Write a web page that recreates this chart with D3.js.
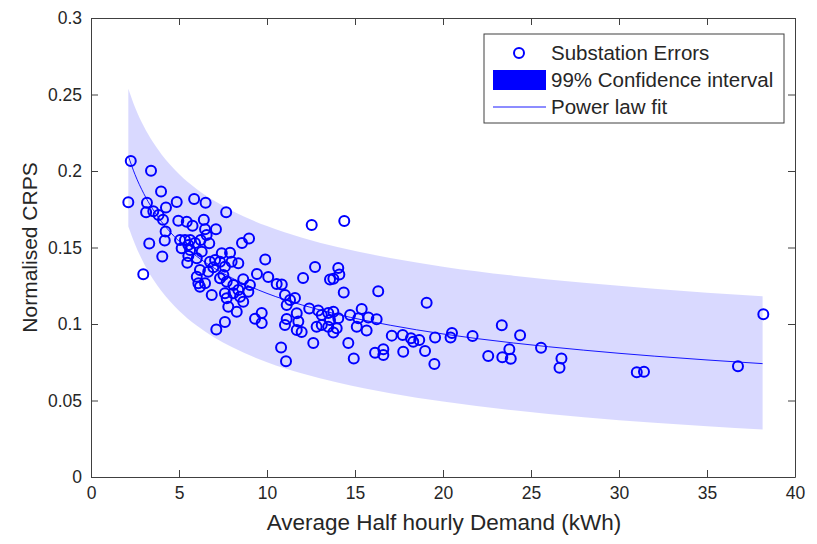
<!DOCTYPE html>
<html>
<head>
<meta charset="utf-8">
<script src="https://cdn.jsdelivr.net/npm/d3@7"></script>
<style>
  html, body { margin: 0; padding: 0; background: #fff; }
  svg { display: block; font-family: "Liberation Sans", Arial, Helvetica, sans-serif; }
</style>
</head>
<body>
<svg id="chart" width="817" height="544"></svg>
<script>
// ---- data ----
const demand = [2.26,3.41,3.98,2.12,3.18,3.13,3.54,3.84,4.09,4.26,4.87,5.86,6.51,7.68,4.24,4.19,3.31,4.05,2.97,4.96,5.44,5.77,6.41,6.48,7.10,5.06,5.34,5.63,5.15,5.53,5.91,6.23,6.57,6.72,6.29,6.01,5.47,5.53,8.58,8.98,7.43,7.90,6.76,7.05,7.33,7.61,8.37,6.19,6.66,6.95,7.71,7.33,6.10,6.48,6.19,6.86,7.61,7.71,8.09,8.37,8.65,9.03,8.94,8.47,9.43,10.07,9.90,10.55,7.80,8.28,8.65,9.70,9.32,9.70,7.61,7.12,10.80,11.08,
  12.54,14.39,12.73,14.05,14.11,13.77,13.58,12.05,14.36,16.32,10.84,11.02,11.31,11.59,11.12,11.69,11.12,11.02,11.78,11.69,11.97,12.40,12.91,13.11,13.48,13.77,14.05,13.58,13.11,12.82,13.48,13.96,13.77,14.72,15.38,15.19,15.76,16.23,15.10,15.66,12.63,14.62,14.93,16.14,16.61,16.61,17.09,17.71,18.18,18.31,18.65,17.74,18.98,19.51,19.55,20.43,20.51,21.68,19.07,23.34,24.38,22.57,23.37,23.77,23.85,25.57,26.73,26.62,31.01,31.42,36.76,38.20,
  6.01,8.09,7.99,7.52,5.63];
const crps = [0.2065,0.2002,0.1866,0.1795,0.1793,0.1730,0.1737,0.1712,0.1681,0.1761,0.1797,0.1817,0.1792,0.1731,0.1605,0.1546,0.1526,0.1441,0.1325,0.1675,0.1669,0.1642,0.1682,0.1619,0.1619,0.1549,0.1549,0.1549,0.1495,0.1516,0.1529,0.1549,0.1582,0.1527,0.1473,0.1429,0.1401,0.1444,0.1529,0.1559,0.1462,0.1466,0.1407,0.1418,0.1407,0.1375,0.1397,0.1353,0.1342,0.1371,0.1276,0.1299,0.1266,0.1266,0.1244,0.1190,0.1201,0.1168,0.1201,0.1222,0.1292,0.1255,0.1211,0.1178,0.1327,0.1307,0.1422,0.1261,0.1113,0.1080,0.1146,0.1072,0.1034,0.1007,0.1013,0.0964,0.0846,0.0756,
  0.1647,0.1673,0.1373,0.1366,0.1324,0.1295,0.1291,0.1301,0.1206,0.1214,0.1258,0.1190,0.1157,0.1170,0.1124,0.1070,0.1033,0.0993,0.1016,0.0961,0.0948,0.1101,0.1088,0.1059,0.1072,0.1080,0.1037,0.1026,0.0993,0.0982,0.0982,0.0972,0.0944,0.1059,0.1098,0.1037,0.1042,0.1031,0.0982,0.0958,0.0876,0.0876,0.0775,0.0812,0.0835,0.0797,0.0924,0.0928,0.0907,0.0884,0.0895,0.0819,0.0824,0.0739,0.0912,0.0912,0.0941,0.0922,0.1139,0.0992,0.0926,0.0791,0.0782,0.0835,0.0773,0.0845,0.0775,0.0714,0.0684,0.0688,0.0724,0.1063,
  0.1309,0.1255,0.1407,0.1320,0.1484];

// power-law fit line and 99% band, read at these demand values
const fitDemand = [2.12,2.5,3,3.5,4,5,6,7,8,10,12,14,17,20,24,28,32,35,38.16];
const fitCrps   = [0.2098,0.1977,0.1852,0.1752,0.1670,0.1541,0.1443,0.1365,0.1301,0.1200,0.1124,0.1063,0.0992,0.0935,0.0876,0.0829,0.0790,0.0765,0.0741];
const bandUpper = [0.2538,0.2417,0.2292,0.2192,0.2110,0.1981,0.1883,0.1805,0.1741,0.1640,0.1564,0.1503,0.1432,0.1375,0.1316,0.1269,0.1230,0.1205,0.1181];
const bandLower = [0.1638,0.1522,0.1397,0.1297,0.1215,0.1087,0.0990,0.0912,0.0849,0.0750,0.0676,0.0617,0.0548,0.0493,0.0436,0.0391,0.0354,0.0331,0.0310];

const xTicks = [0,5,10,15,20,25,30,35,40];
const yTicks = [0,0.05,0.1,0.15,0.2,0.25,0.3];
const legendLabels = ["Substation Errors","99% Confidence interval","Power law fit"];

// ---- drawing ----
const svg = d3.select("#chart");
const L = 91, R = 795, T = 18, B = 477;
const x = d3.scaleLinear().domain([0,40]).range([L,R]);
const y = d3.scaleLinear().domain([0,0.3]).range([B,T]);
const axisCol = "#404040", textCol = "#262626";
const blue = "#0000ff";

const bandData = fitDemand.map((d,i)=>({x:d, lo:bandLower[i], hi:bandUpper[i]}));
svg.append("path")
  .datum(bandData)
  .attr("d", d3.area().x(d=>x(d.x)).y0(d=>y(d.lo)).y1(d=>y(d.hi)).curve(d3.curveMonotoneX))
  .attr("fill", blue).attr("fill-opacity", 0.15).attr("stroke","none");

svg.append("path")
  .datum(fitDemand.map((d,i)=>[d, fitCrps[i]]))
  .attr("d", d3.line().x(d=>x(d[0])).y(d=>y(d[1])).curve(d3.curveMonotoneX))
  .attr("fill","none").attr("stroke", blue).attr("stroke-width", 0.9);

svg.append("g").selectAll("circle")
  .data(demand.map((d,i)=>[d, crps[i]]))
  .join("circle")
  .attr("cx", d=>x(d[0])).attr("cy", d=>y(d[1])).attr("r", 5)
  .attr("fill","none").attr("stroke", blue).attr("stroke-width", 2);

// axes
const fs = 17.5;
function styleAxis(g){
  g.select(".domain").attr("stroke", axisCol).attr("stroke-width", 1);
  g.selectAll(".tick line").attr("stroke", axisCol);
  g.selectAll("text").attr("fill", textCol).style("font-size", fs+"px");
}
svg.append("g").attr("transform",`translate(0,${B})`)
  .call(d3.axisBottom(x).tickValues(xTicks).tickFormat(d3.format("d")).tickSize(-7).tickSizeOuter(0).tickPadding(10))
  .call(styleAxis);
svg.append("g").attr("transform",`translate(${L},0)`)
  .call(d3.axisLeft(y).tickValues(yTicks).tickFormat(d=>String(+d.toFixed(2))).tickSize(-7).tickSizeOuter(0).tickPadding(9))
  .call(styleAxis);
svg.append("g").attr("transform",`translate(0,${T})`)
  .call(d3.axisTop(x).tickValues(xTicks).tickFormat("").tickSize(-7).tickSizeOuter(0))
  .call(styleAxis);
svg.append("g").attr("transform",`translate(${R},0)`)
  .call(d3.axisRight(y).tickValues(yTicks).tickFormat("").tickSize(-7).tickSizeOuter(0))
  .call(styleAxis);

// axis labels
svg.append("text").attr("x", (L+R)/2 + 1).attr("y", 530).attr("text-anchor","middle")
  .attr("fill", textCol).style("font-size","22.5px").text("Average Half hourly Demand (kWh)");
svg.append("text").attr("transform",`translate(37,${(T+B)/2}) rotate(-90)`).attr("text-anchor","middle")
  .attr("fill", textCol).style("font-size","21px").text("Normalised CRPS");

// legend
const lg = svg.append("g");
lg.append("rect").attr("x",484).attr("y",34).attr("width",300).attr("height",89)
  .attr("fill","#fff").attr("stroke", axisCol).attr("stroke-width",1);
const rows = [53, 80, 107];
lg.append("circle").attr("cx",519).attr("cy",rows[0]).attr("r",5)
  .attr("fill","none").attr("stroke",blue).attr("stroke-width",2);
lg.append("rect").attr("x",493).attr("y",rows[1]-10).attr("width",53).attr("height",20).attr("fill",blue);
lg.append("line").attr("x1",493).attr("x2",546).attr("y1",rows[2]).attr("y2",rows[2])
  .attr("stroke",blue).attr("stroke-width",0.9);
lg.selectAll("text.lab").data(legendLabels).join("text").attr("class","lab")
  .attr("x",551).attr("y",(d,i)=>rows[i]).attr("dy","0.36em")
  .attr("fill", textCol).style("font-size","20.5px").text(d=>d);
</script>
</body>
</html>
